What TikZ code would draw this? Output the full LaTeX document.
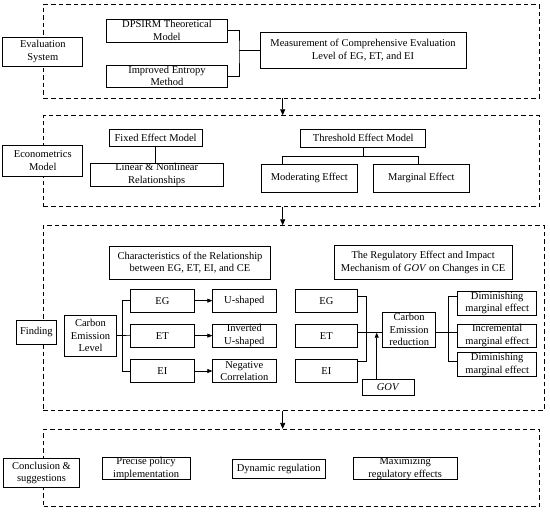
\documentclass[tikz,border=0pt]{standalone}
\usepackage{fontspec}
\setmainfont{Liberation Serif}
\usetikzlibrary{arrows.meta}
\tikzset{
  box/.style={draw, line width=0.7pt, fill=white, inner sep=0pt, align=center,
    font=\fontsize{10.5}{12.8}\selectfont},
  frame/.style={draw, dashed, dash pattern=on 4.5pt off 3pt, line width=0.8pt, inner sep=0pt},
  wire/.style={line width=0.7pt},
  arr/.style={line width=0.8pt, -{Triangle[length=6pt,width=5pt]}},
  sarr/.style={line width=0.7pt, -{Triangle[length=5pt,width=4pt]}}
}
% name, x1, y1, x2, y2, text
\newcommand{\rb}[7][]{\node[box,#1,minimum width={#4-#2},minimum height={#5-#3}] (#2x#3) at ({(#2+#4)/2},{(#3+#5)/2}) {#7};}
\newcommand{\nb}[7][]{\node[box,#1,minimum width={#5-#3},minimum height={#6-#4}] (#2) at ({(#3+#5)/2},{(#4+#6)/2}) {#7};}
\newcommand{\fr}[5]{\node[frame,minimum width={#4-#2},minimum height={#5-#3}] (#1) at ({(#2+#4)/2},{(#3+#5)/2}) {};}
\begin{document}
\begin{tikzpicture}[x=1pt,y=-1pt]
\useasboundingbox (0,0) rectangle (550,513);
% frames
\fr{f1}{43.6}{4.7}{539.2}{98}
\fr{f2}{43.6}{115.7}{539.2}{206.7}
\fr{f3}{43.3}{225.7}{544}{410.5}
\fr{f4}{43.6}{429.3}{539.2}{506.7}
\coordinate (ax) at (282.7,0);
\draw[arr] (ax |- f1.south) -- (ax |- f2.north);
\draw[arr] (ax |- f2.south) -- (ax |- f3.north);
\draw[arr] (ax |- f3.south) -- (ax |- f4.north);
% block 1
\nb{evalsys}{2.8}{37.7}{82.7}{66}{Evaluation\\System}
\nb{dpsirm}{106.4}{19}{227.5}{42}{DPSIRM Theoretical\\Model}
\nb{entropy}{106.4}{65}{227.5}{87}{Improved Entropy\\Method}
\nb{measure}{260}{32.7}{466}{68.3}{Measurement of Comprehensive Evaluation\\Level of EG, ET, and EI}
\coordinate (j1) at (239,50.5);
\draw[wire] (dpsirm.east) -| (j1) |- (entropy.east);
\draw[wire] (j1) -- (measure.west);
% block 2
\nb{econ}{2.8}{145}{82.7}{176.7}{Econometrics\\Model}
\nb{fixed}{108.9}{129}{202.4}{146.7}{Fixed Effect Model}
\nb{linear}{90}{163.3}{223.4}{186}{Linear \& Nonlinear\\Relationships}
\draw[wire] (fixed.south) -- (fixed.south |- linear.north);
\nb{threshold}{300.8}{129}{425.8}{147.7}{Threshold Effect Model}
\nb{moderating}{261}{164}{357.7}{192.7}{Moderating Effect}
\nb{marginal}{373.4}{164}{469.4}{192.7}{Marginal Effect}
\coordinate (j2) at (363.3,156.7);
\coordinate (j2l) at (282.7,156.7);
\coordinate (j2r) at (418.1,156.7);
\draw[wire] (threshold.south) -- (j2);
\draw[wire] (j2l |- moderating.north) -- (j2l) -- (j2r) -- (j2r |- marginal.north);
% block 3
\nb{finding}{16}{320.7}{56.7}{344}{Finding}
\nb{charac}{109.3}{246}{270.7}{279.3}{Characteristics of the Relationship\\between EG, ET, EI, and CE}
\nb{cel}{64.3}{315}{116.7}{356}{Carbon\\Emission\\Level}
\nb{eg}{130.7}{289}{194}{312.3}{EG}
\nb{et}{130.7}{324}{194}{347.3}{ET}
\nb{ei}{130.7}{359.3}{194}{382.7}{EI}
\coordinate (j3) at (122.7,335.7);
\draw[wire] (cel.east) -- (et.west);
\draw[wire] (eg.west) -| (j3) |- (ei.west);
\nb{ush}{212.7}{289}{276}{312.3}{U-shaped}
\nb{iush}{212.7}{324}{276}{347.3}{Inverted\\U-shaped}
\nb{neg}{212.7}{359.3}{276}{382.7}{Negative\\Correlation}
\draw[sarr] (eg.east) -- (ush.west);
\draw[sarr] (et.east) -- (iush.west);
\draw[sarr] (ei.east) -- (neg.west);
\nb{reg}{334}{245}{512.3}{279.3}{The Regulatory Effect and Impact\\Mechanism of \textit{GOV} on Changes in CE}
\nb{egb}{295}{289}{357.7}{312.3}{EG}
\nb{etb}{295}{324}{357.7}{347.3}{ET}
\nb{eib}{295}{359.3}{357.7}{382.7}{EI}
\nb[font=\fontsize{10.5}{12.5}\selectfont]{cer}{382.7}{312.3}{435.7}{347.3}{Carbon\\Emission\\reduction}
\nb{gov}{362.3}{379.3}{414}{395.7}{\textit{GOV}}
\coordinate (k1) at (366.7,296);
\coordinate (k2) at (366.7,361.7);
\coordinate (kc) at (366.7,332.7);
\draw[wire] (egb.east |- k1) -- (k1) -- (k2) -- (eib.east |- k2);
\draw[wire] (etb.east |- kc) -- (cer.west |- kc);
\coordinate (gv) at (376.7,332.7);
\draw[sarr] (gv |- gov.north) -- (gv);
\nb{dim1}{457.7}{291}{536.7}{315}{Diminishing\\marginal effect}
\nb{inc}{457.7}{324}{536.7}{347.3}{Incremental\\marginal effect}
\nb{dim2}{457.7}{352.7}{536.7}{376}{Diminishing\\marginal effect}
\coordinate (m1) at (448.3,296);
\coordinate (m2) at (448.3,361.7);
\coordinate (mc) at (448.3,332.7);
\draw[wire] (cer.east |- mc) -- (inc.west |- mc);
\draw[wire] (dim1.west |- m1) -- (m1) -- (m2) -- (dim2.west |- m2);
% block 4
\nb{concl}{3.5}{458.3}{79.6}{487.7}{Conclusion \&\\suggestions}
\nb{precise}{101.9}{459}{190.2}{478.3}{Precise policy\\implementation}
\nb{dynamic}{232}{459}{325.5}{478.3}{Dynamic regulation}
\nb{maxim}{353.2}{459}{457.2}{478.3}{Maximizing\\regulatory effects}
\end{tikzpicture}
\end{document}
